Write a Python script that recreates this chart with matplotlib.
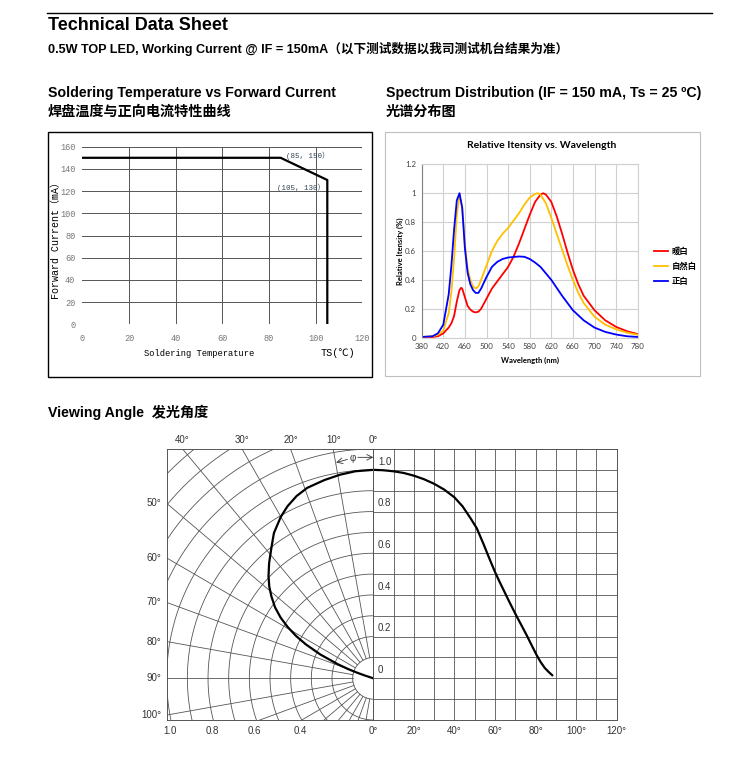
import matplotlib
matplotlib.use('Agg')
import matplotlib.pyplot as plt
import numpy as np
from matplotlib.patches import Rectangle
from matplotlib.lines import Line2D

# ---- soldering temperature vs forward current
temp = [0, 85, 105, 105]
current = [150, 150, 130, 0]

# ---- spectrum (wavelength nm, relative intensity)
wl_red = [380, 400, 410, 420, 430, 435, 440, 445, 450, 453, 455, 460, 465, 470, 475, 480, 485, 490,
          500, 510, 520, 530, 540, 550, 560, 570, 580, 590, 600, 605, 610, 620, 630, 640, 650, 660,
          670, 680, 700, 720, 740, 760, 780]
warm = [0.002, 0.005, 0.01, 0.03, 0.07, 0.10, 0.15, 0.25, 0.33, 0.345, 0.34, 0.28, 0.22, 0.195, 0.18,
        0.175, 0.18, 0.20, 0.27, 0.34, 0.39, 0.44, 0.49, 0.56, 0.65, 0.75, 0.85, 0.94, 0.99, 1.0, 0.99,
        0.94, 0.84, 0.72, 0.59, 0.47, 0.37, 0.29, 0.19, 0.12, 0.075, 0.045, 0.025]

wl_nat = [380, 400, 410, 420, 430, 435, 440, 445, 450, 455, 460, 465, 470, 475, 480, 485, 490, 500,
          510, 520, 530, 540, 550, 560, 570, 580, 590, 595, 600, 610, 620, 630, 640, 650, 660, 670,
          680, 700, 720, 740, 760, 780]
natural = [0.005, 0.01, 0.02, 0.05, 0.17, 0.32, 0.55, 0.85, 0.99, 0.9, 0.65, 0.48, 0.40, 0.355, 0.34,
           0.355, 0.40, 0.50, 0.60, 0.67, 0.72, 0.76, 0.81, 0.86, 0.92, 0.97, 0.995, 1.0, 0.99, 0.93,
           0.83, 0.72, 0.61, 0.50, 0.40, 0.31, 0.24, 0.145, 0.09, 0.058, 0.035, 0.02]

wl_cool = [380, 400, 410, 420, 430, 435, 440, 445, 450, 455, 460, 465, 470, 475, 480, 485, 490, 500,
           510, 520, 530, 540, 560, 570, 580, 590, 600, 620, 640, 660, 680, 700, 720, 740, 760, 780]
cool = [0.005, 0.01, 0.03, 0.09, 0.30, 0.50, 0.75, 0.95, 1.0, 0.9, 0.62, 0.45, 0.37, 0.33, 0.31, 0.31,
        0.34, 0.42, 0.49, 0.525, 0.545, 0.555, 0.562, 0.56, 0.545, 0.52, 0.49, 0.40, 0.29, 0.19, 0.12,
        0.07, 0.04, 0.022, 0.01, 0.005]

spec_labels = ['暖白', '自然白', '正白']
spec_colors = ['#ff0000', '#ffc000', '#0000ff']

# ---- viewing angle
polar_angle = [0, 5, 9.3, 14, 19.3, 23, 26.7, 30, 34.6, 38, 42.4, 46, 48.9, 51.5, 54.4, 57, 59.3,
               61.5, 63.5, 66, 68.5, 70, 71, 71.8, 72.3]
polar_r = [1.0, 0.997, 0.99, 0.98, 0.968, 0.95, 0.924, 0.895, 0.847, 0.80, 0.748, 0.705, 0.668, 0.63,
           0.585, 0.535, 0.482, 0.425, 0.365, 0.28, 0.185, 0.13, 0.085, 0.045, 0.0]

cart_angle = [0, 5, 10, 15, 20, 25, 30, 35, 40, 44, 47.8, 51, 54.3, 57, 60, 62, 64.2, 67, 70.8, 73,
              75.7, 78, 80.6, 82.5, 84.5, 86.5, 88.3]
cart_r = [1.0, 0.998, 0.993, 0.985, 0.972, 0.955, 0.933, 0.905, 0.868, 0.825, 0.77, 0.72, 0.645, 0.58,
          0.51, 0.468, 0.424, 0.368, 0.295, 0.255, 0.205, 0.16, 0.11, 0.078, 0.05, 0.03, 0.014]

W, H = 750, 760
SANS = ['Liberation Sans', 'Noto Sans CJK SC']
MONO = ['Liberation Mono', 'Noto Sans CJK SC']
CALI = ['Lato', 'Noto Sans CJK SC']

fig = plt.figure(figsize=(7.5, 7.6), dpi=100)


def box(x0, y0, x1, y1):
    return [x0 / W, 1 - y1 / H, (x1 - x0) / W, (y1 - y0) / H]


def ftext(x, y, s, **kw):
    fig.text(x / W, 1 - y / H, s, **kw)


# header
fig.add_artist(Line2D([47 / W, 712 / W], [1 - 13 / H] * 2, color='black', lw=1))
ftext(48, 26, 'Technical Data Sheet', family=SANS, weight='bold', size=13, va='center')
ftext(48, 49, '0.5W TOP LED, Working Current @ IF = 150mA（以下测试数据以我司测试机台结果为准）',
      family=SANS, weight='bold', size=9.1, va='center')
ftext(48, 93, 'Soldering Temperature vs Forward Current', family=SANS, weight='bold', size=10.2, va='center')
ftext(48, 112, '焊盘温度与正向电流特性曲线', family=SANS, weight='bold', size=10.2, va='center')
ftext(386, 93, 'Spectrum Distribution (IF = 150 mA, Ts = 25 ºC)', family=SANS, weight='bold', size=10.2,
      va='center')
ftext(386, 112, '光谱分布图', family=SANS, weight='bold', size=10.2, va='center')
ftext(48, 412, 'Viewing Angle  发光角度', family=SANS, weight='bold', size=10.2, va='center')

# ---------------- chart 1
fig.add_artist(Rectangle((48 / W, 1 - 377 / H), (372 - 48) / W, (377 - 132) / H,
                         transform=fig.transFigure, fill=False, ec='black', lw=1))
ax1 = fig.add_axes(box(82.3, 146.7, 362.3, 324.3))
ax1.set_xlim(0, 120)
ax1.set_ylim(0, 160)
ax1.set_xticks(range(0, 121, 20))
ax1.set_yticks(range(0, 161, 20))
for v in range(20, 121, 20):
    ax1.axvline(v, color='#555555', lw=0.7, zorder=0)
for v in range(0, 161, 20):
    ax1.axhline(v, color='#555555', lw=0.7, zorder=0)
ax1.plot(temp, current, color='black', lw=1.6)
for s in ax1.spines.values():
    s.set_visible(False)
ax1.tick_params(length=0, labelsize=6.2, labelcolor='#777777')
ax1.tick_params(axis='x', pad=7)
ax1.tick_params(axis='y', pad=5)
for lbl in ax1.get_xticklabels() + ax1.get_yticklabels():
    lbl.set_family(MONO)
ax1.text(87.5, 151.5, '(85, 150）', family=MONO, size=5.4, color='#334455', va='center')
ax1.text(83.3, 123, '(105, 130）', family=MONO, size=5.4, color='#334455', va='center')
ftext(56, 238, 'Forward Current（mA）', family=MONO, size=7.2, rotation=90, ha='center', va='center')
ftext(199, 353, 'Soldering Temperature', family=MONO, size=6.3, ha='center', va='center')
ftext(338, 353, 'TS(℃)', family=MONO, size=7.3, ha='center', va='center')

# ---------------- chart 2
fig.add_artist(Rectangle((385 / W, 1 - 376 / H), (700 - 385) / W, (376 - 132) / H,
                         transform=fig.transFigure, fill=False, ec='#bfbfbf', lw=0.8))
ax2 = fig.add_axes(box(421.7, 164.3, 637.7, 337.7))
ax2.plot(wl_red, warm, color=spec_colors[0], lw=1.3, label=spec_labels[0])
ax2.plot(wl_nat, natural, color=spec_colors[1], lw=1.3, label=spec_labels[1])
ax2.plot(wl_cool, cool, color=spec_colors[2], lw=1.3, label=spec_labels[2])
ax2.set_xlim(380, 780)
ax2.set_ylim(0, 1.2)
ax2.set_xticks(range(380, 781, 40))
ax2.set_yticks([0, 0.2, 0.4, 0.6, 0.8, 1.0, 1.2])
ax2.set_yticklabels(['0', '0.2', '0.4', '0.6', '0.8', '1', '1.2'])
ax2.grid(True, color='#d0d0d0', lw=0.8)
ax2.set_axisbelow(True)
for s in ax2.spines.values():
    s.set_color('#d0d0d0')
ax2.spines['left'].set_color('#808080')
ax2.tick_params(length=0, labelsize=5.7, labelcolor='#404040', pad=4)
for lbl in ax2.get_xticklabels() + ax2.get_yticklabels():
    lbl.set_family(CALI)
ftext(542, 146, 'Relative Itensity vs. Wavelength', family=CALI, weight='bold', size=7.5,
      ha='center', va='center')
ftext(400, 251, 'Relative Itensity (%)', family=CALI, weight='bold', size=5.5, rotation=90,
      ha='center', va='center')
ftext(530, 360, 'Wavelength (nm)', family=CALI, weight='bold', size=5.5, ha='center', va='center')
ax2.legend(loc='upper left', bbox_to_anchor=(650 / W, 1 - 243 / H), bbox_transform=fig.transFigure,
           frameon=False, handlelength=1.7, handletextpad=0.4, labelspacing=0.7, borderpad=0,
           prop={'family': 'Noto Sans CJK SC', 'weight': 'bold', 'size': 6})

# ---------------- chart 3: viewing angle
GRID = '#555555'
axL = fig.add_axes(box(166.7, 449, 373.3, 720))
axR = fig.add_axes(box(373.3, 449, 616.7, 720))
for ax in (axL, axR):
    ax.set_ylim(-0.2, 1.1)
    for s in ax.spines.values():
        s.set_color(GRID)
        s.set_linewidth(0.7)
    ax.tick_params(length=0, labelsize=7, labelcolor='#333333', pad=4)
axL.set_xlim(-1.0, 0)

th = np.radians(np.linspace(0, 180, 300))
for r in np.arange(0.1, 1.55, 0.1):
    axL.plot(-r * np.sin(th), r * np.cos(th), color=GRID, lw=0.6)
for a in range(0, 181, 10):
    t = np.radians(a)
    axL.plot([-0.1 * np.sin(t), -2 * np.sin(t)], [0.1 * np.cos(t), 2 * np.cos(t)], color=GRID, lw=0.6)

pa = np.radians(polar_angle)
pr = np.array(polar_r)
axL.plot(-pr * np.sin(pa), pr * np.cos(pa), color='black', lw=1.6, solid_capstyle='round',
         solid_joinstyle='round')

axL.set_yticks([])
axL.set_xticks([-0.985, -0.78, -0.575, -0.355])
axL.set_xticklabels(['1.0', '0.8', '0.6', '0.4'], family=SANS)
for a in range(10, 50, 10):
    axL.text(-1.1 * np.tan(np.radians(a)), 1.12, f'{a}°', family=SANS, size=7, color='#333333',
             ha='center', va='bottom', clip_on=False)
axR.text(0, 1.12, '0°', family=SANS, size=7, color='#333333', ha='center', va='bottom', clip_on=False)
for a in range(50, 101, 10):
    y = np.cos(np.radians(a)) / np.sin(np.radians(a))
    axL.text(-1.025, y, f'{a}°', family=SANS, size=7, color='#333333', ha='right', va='center',
             clip_on=False)

# phi marker
axL.annotate('', xy=(-0.18, 1.035), xytext=(-0.125, 1.05),
             arrowprops=dict(arrowstyle='->', color='#333333', lw=0.6, shrinkA=0, shrinkB=0))
axL.annotate('', xy=(0.0, 1.06), xytext=(-0.075, 1.06),
             arrowprops=dict(arrowstyle='->', color='#333333', lw=0.6, shrinkA=0, shrinkB=0))
axL.text(-0.1, 1.055, 'φ', family=SANS, size=7, color='#333333', ha='center', va='center')

axR.set_xlim(0, 120)
axR.set_xticks(range(0, 121, 20))
axR.set_xticklabels([f'{a}°' for a in range(0, 121, 20)], family=SANS)
axR.set_xticks(range(0, 121, 10), minor=True)
axR.set_yticks(np.arange(-0.2, 1.101, 0.1))
axR.set_yticklabels([])
axR.tick_params(which='minor', length=0)
axR.grid(True, which='both', color=GRID, lw=0.6)
axR.plot(cart_angle, cart_r, color='black', lw=1.6, solid_capstyle='round', solid_joinstyle='round')
for v in [0, 0.2, 0.4, 0.6, 0.8, 1.0]:
    axR.text(2.3, v + 0.015, '0' if v == 0 else f'{v:.1f}', family=SANS, size=7, color='#333333',
             ha='left', va='bottom')

fig.savefig('out.png', dpi=100, facecolor='white')
